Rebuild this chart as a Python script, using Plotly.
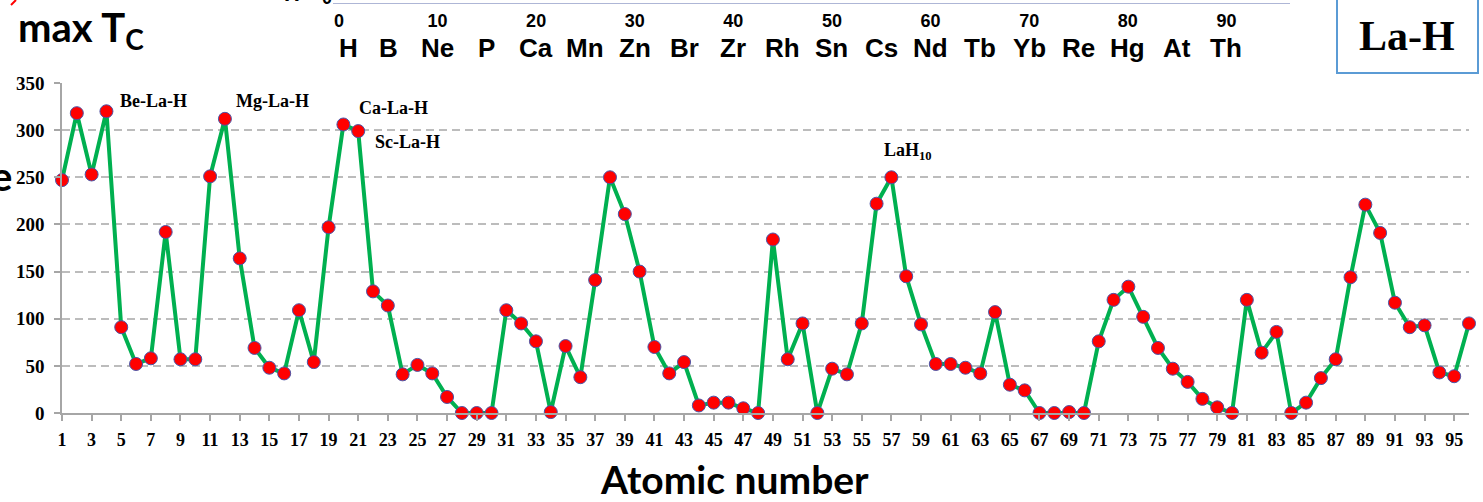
import plotly.graph_objects as go

# ---------------- data ----------------
atomic_number = list(range(1, 97))
max_tc = [247, 318, 253, 320, 91, 52, 58, 192, 57, 57,
          251, 312, 164, 69, 48, 42, 109, 54, 197, 306,
          299, 129, 114, 41, 51, 42, 17, 0, 0, 0,
          109, 95, 76, 1, 71, 38, 141, 250, 211, 150,
          70, 42, 54, 8, 11, 11, 5, 0, 184, 57,
          95, 0, 47, 41, 95, 222, 250, 145, 94, 52,
          52, 48, 42, 107, 30, 24, 0, 0, 1, 0,
          76, 120, 134, 102, 69, 47, 33, 15, 6, 0,
          120, 64, 86, 0, 11, 37, 57, 144, 221, 191,
          117, 91, 93, 43, 39, 95]
x_tick_labels = [str(v) for v in range(1, 96, 2)]
y_tick_vals = [0, 50, 100, 150, 200, 250, 300, 350]

# labelled systems: (atomic number position, Tc position, text)
label_text = ["Be-La-H", "Mg-La-H", "Ca-La-H", "Sc-La-H", "LaH<sub>10</sub>"]
label_x = [7.2, 15.2, 23.4, 24.3, 58.1]
label_y = [331, 331, 323, 287, 277]

# fragment of the periodic axis above the chart
top_tick_vals = [0, 10, 20, 30, 40, 50, 60, 70, 80, 90]
elem_z = [1, 5, 10, 15, 20, 25, 30, 35, 40, 45, 50, 55, 60, 65, 70, 75, 80, 85, 90]
elem_sym = ["H", "B", "Ne", "P", "Ca", "Mn", "Zn", "Br", "Zr", "Rh", "Sn", "Cs",
            "Nd", "Tb", "Yb", "Re", "Hg", "At", "Th"]

W, H = 1483, 502
def fx(p):
    return p / W
def fy(p):
    return 1 - p / H

SERIF = "Liberation Serif"
SANS = "Lato"
ARIAL = "Liberation Sans"

fig = go.Figure()
fig.add_trace(go.Scatter(
    x=atomic_number, y=max_tc, mode="lines+markers",
    line=dict(color="#00b050", width=4),
    marker=dict(size=13, color="#ff0000", line=dict(color="#4a55a8", width=1)),
    cliponaxis=False, showlegend=False, hoverinfo="x+y"))
# anchor trace for the top periodic axis
fig.add_trace(go.Scatter(x=[0], y=[0], xaxis="x2", yaxis="y2", mode="markers",
                         marker=dict(opacity=0), showlegend=False, hoverinfo="skip"))

grid_col = "#bcbcbc"
axis_col = "#a6a6a6"

fig.update_layout(
    width=W, height=H,
    margin=dict(l=0, r=0, t=0, b=0),
    paper_bgcolor="white", plot_bgcolor="rgba(0,0,0,0)",
    xaxis=dict(domain=[fx(62), fx(1469)], range=[1, 96], anchor="y",
               tickmode="array", tickvals=list(range(1, 96, 2)), ticktext=x_tick_labels,
               showgrid=False, zeroline=False,
               showline=True, linecolor=axis_col, linewidth=1.5,
               ticks="outside", ticklen=6, tickcolor=axis_col, tickwidth=1.5,
               ticklabelstandoff=4,
               tickfont=dict(family=SERIF, size=18, color="black", weight="bold"),
               automargin=False),
    yaxis=dict(domain=[fy(413), fy(83)], range=[0, 350], anchor="x",
               tickmode="array", tickvals=y_tick_vals,
               showgrid=True, gridcolor=grid_col, gridwidth=2, griddash="8px,5px",
               zeroline=False,
               showline=True, linecolor=axis_col, linewidth=1.5,
               ticks="outside", ticklen=6, tickcolor=axis_col, tickwidth=1.5,
               ticklabelstandoff=6,
               tickfont=dict(family=SERIF, size=19, color="black", weight="bold"),
               automargin=False),
    xaxis2=dict(domain=[fx(333), fx(1290)], range=[-0.6, 96.45], anchor="y2",
                tickmode="array", tickvals=top_tick_vals,
                showgrid=False, zeroline=False,
                showline=True, linecolor="#aeb6d6", linewidth=1,
                ticks="", ticklabelstandoff=1,
                tickfont=dict(family=ARIAL, size=18, color="black", weight="bold"),
                automargin=False),
    yaxis2=dict(domain=[fy(3), 1.0], range=[0, 1], anchor="x2",
                showgrid=False, zeroline=False, showline=False,
                showticklabels=False, ticks="", automargin=False),
)

annotations = []
for t, xv, yv in zip(label_text, label_x, label_y):
    annotations.append(dict(x=xv, y=yv, xref="x", yref="y", text=t, showarrow=False,
                            font=dict(family=SERIF, size=18, color="black", weight="bold"),
                            xanchor="center", yanchor="middle"))
for z, s in zip(elem_z, elem_sym):
    annotations.append(dict(x=z, y=fy(48), xref="x2", yref="paper", text=s, showarrow=False,
                            font=dict(family=ARIAL, size=26, color="black", weight="bold"),
                            xanchor="center", yanchor="middle"))
annotations += [
    dict(x=fx(734), y=fy(479), xref="paper", yref="paper", text="Atomic number",
         showarrow=False, font=dict(family=SANS, size=39, color="black", weight="bold"),
         xanchor="center", yanchor="middle"),
    dict(x=fx(16), y=fy(30), xref="paper", yref="paper", text="max T<sub>C</sub>",
         showarrow=False, font=dict(family=SANS, size=40, color="black", weight="bold"),
         xanchor="left", yanchor="middle"),
    dict(x=fx(1407), y=fy(36), xref="paper", yref="paper", text="La-H",
         showarrow=False, font=dict(family=SERIF, size=42, color="black", weight="bold"),
         xanchor="center", yanchor="middle"),
    dict(x=fx(14), y=fy(176), xref="paper", yref="paper", text="e",
         showarrow=False, font=dict(family=SANS, size=40, color="black", weight="bold"),
         xanchor="right", yanchor="middle"),
    dict(x=fx(292), y=fy(8), xref="paper", yref="paper", text="H",
         showarrow=False, font=dict(family=ARIAL, size=22, color="black", weight="bold"),
         xanchor="center", yanchor="bottom"),
    dict(x=fx(327), y=fy(10), xref="paper", yref="paper", text="0",
         showarrow=False, font=dict(family=ARIAL, size=18, color="black", weight="bold"),
         xanchor="center", yanchor="bottom"),
]
fig.update_layout(annotations=annotations)

fig.add_shape(type="rect", xref="paper", yref="paper",
              x0=fx(1337), x1=fx(1478), y0=fy(73), y1=fy(-3),
              line=dict(color="#5b9bd5", width=2), fillcolor="rgba(0,0,0,0)")
fig.add_shape(type="line", xref="paper", yref="paper",
              x0=fx(11), x1=fx(16), y0=fy(5), y1=fy(0),
              line=dict(color="#ff0000", width=2))

fig.write_html("out.html")
